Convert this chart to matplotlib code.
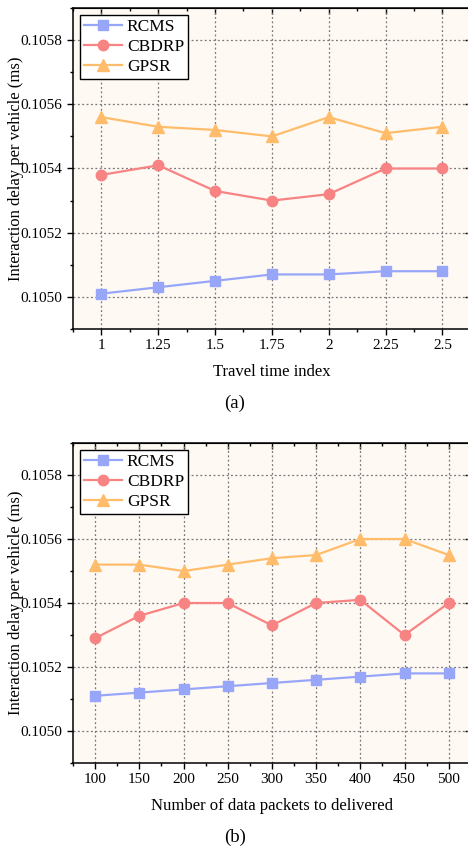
import matplotlib.pyplot as plt
from matplotlib.ticker import MultipleLocator, FormatStrFormatter

plt.rcParams['font.family'] = ['Liberation Serif', 'DejaVu Serif']

travel_index = [1, 1.25, 1.5, 1.75, 2, 2.25, 2.5]
travel_labels = ['1', '1.25', '1.5', '1.75', '2', '2.25', '2.5']
rcms_a = [0.10501, 0.10503, 0.10505, 0.10507, 0.10507, 0.10508, 0.10508]
cbdrp_a = [0.10538, 0.10541, 0.10533, 0.10530, 0.10532, 0.10540, 0.10540]
gpsr_a = [0.10556, 0.10553, 0.10552, 0.10550, 0.10556, 0.10551, 0.10553]

packets = [100, 150, 200, 250, 300, 350, 400, 450, 500]
rcms_b = [0.10511, 0.10512, 0.10513, 0.10514, 0.10515, 0.10516, 0.10517, 0.10518, 0.10518]
cbdrp_b = [0.10529, 0.10536, 0.10540, 0.10540, 0.10533, 0.10540, 0.10541, 0.10530, 0.10540]
gpsr_b = [0.10552, 0.10552, 0.10550, 0.10552, 0.10554, 0.10555, 0.10560, 0.10560, 0.10555]

c_blue = '#98a6fa'
c_red = '#f78383'
c_orange = '#ffbd6c'
bg = '#fff9f4'


def panel(ax, x, series, xlabel, xlim, xstep):
    ax.set_facecolor(bg)
    ax.plot(x, series[0], color=c_blue, marker='s', ms=6.5, lw=1.6, label='RCMS')
    ax.plot(x, series[1], color=c_red, marker='o', ms=7.5, lw=1.6, label='CBDRP')
    ax.plot(x, series[2], color=c_orange, marker='^', ms=8, lw=1.6, label='GPSR')
    ax.set_xlim(*xlim)
    ax.set_ylim(0.1049, 0.1059)
    ax.set_xticks(x)
    ax.yaxis.set_major_locator(MultipleLocator(0.0002))
    ax.yaxis.set_minor_locator(MultipleLocator(0.0001))
    ax.yaxis.set_major_formatter(FormatStrFormatter('%.4f'))
    ax.xaxis.set_minor_locator(MultipleLocator(xstep / 2))
    ax.grid(True, which='major', linestyle=(0, (1.5, 2)), color='#777777', lw=0.9)
    ax.tick_params(which='both', labelsize=11, width=1, color='black', direction='out')
    ax.tick_params(which='major', length=4)
    ax.tick_params(which='minor', length=2.5)
    for sp in ax.spines.values():
        sp.set_linewidth(1.1)
    ax.set_xlabel(xlabel, fontsize=12, labelpad=8)
    ax.set_ylabel('Interaction delay per vehicle (ms)', fontsize=12)
    ax.yaxis.set_label_coords(-0.123, 0.5)

    # top/right ticks point inward
    top = ax.secondary_xaxis('top')
    top.set_xticks(x)
    top.xaxis.set_minor_locator(MultipleLocator(xstep / 2))
    top.tick_params(which='both', direction='in', labeltop=False, width=1)
    top.tick_params(which='major', length=4)
    top.tick_params(which='minor', length=2.5)
    right = ax.secondary_yaxis('right')
    right.yaxis.set_major_locator(MultipleLocator(0.0002))
    right.yaxis.set_minor_locator(MultipleLocator(0.0001))
    right.tick_params(which='both', direction='in', labelright=False, width=1)
    right.tick_params(which='major', length=4)
    right.tick_params(which='minor', length=2.5)

    leg = ax.legend(loc='upper left', fontsize=12.5, frameon=True, fancybox=False,
                    edgecolor='black', handlelength=2.2, borderpad=0.25,
                    labelspacing=0.2, handletextpad=0.25, borderaxespad=0.4)
    leg.get_frame().set_linewidth(1.0)
    leg.get_frame().set_facecolor('white')
    leg.get_frame().set_alpha(1)


fig = plt.figure(figsize=(4.68, 8.51), dpi=100)
ax1 = fig.add_axes([0.156, 0.6134, 0.850, 0.3772])
panel(ax1, travel_index, [rcms_a, cbdrp_a, gpsr_a], 'Travel time index', (0.875, 2.625), 0.25)
ax1.set_xticklabels(travel_labels)

ax2 = fig.add_axes([0.156, 0.1034, 0.850, 0.376])
panel(ax2, packets, [rcms_b, cbdrp_b, gpsr_b], 'Number of data packets to delivered', (75, 525), 50)

fig.text(0.502, 0.5264, '(a)', ha='center', va='center', fontsize=13.5)
fig.text(0.502, 0.0165, '(b)', ha='center', va='center', fontsize=13.5)

fig.savefig('out.png', dpi=100)
